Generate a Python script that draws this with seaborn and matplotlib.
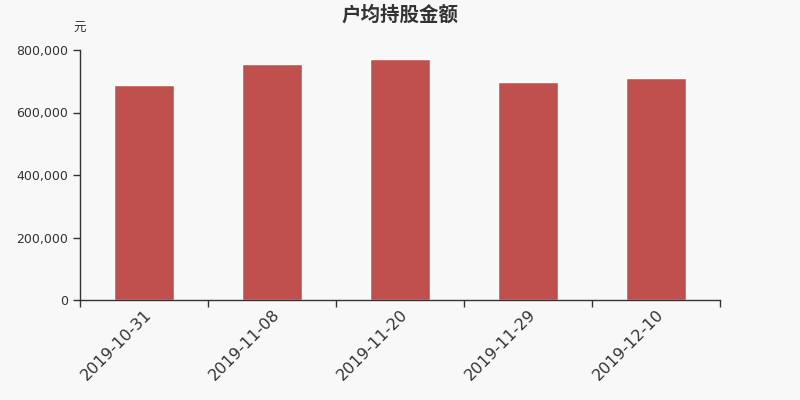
import seaborn as sns
import matplotlib.pyplot as plt
import matplotlib.ticker as mticker

dates = ["2019-10-31", "2019-11-08", "2019-11-20", "2019-11-29", "2019-12-10"]
amounts = [688000, 755000, 771000, 698000, 712000]

sns.set_style("white")
plt.rcParams['font.family'] = ['DejaVu Sans', 'Noto Sans CJK SC']

fig = plt.figure(figsize=(8, 4), dpi=100, facecolor="#f8f8f8")
ax = fig.add_axes([0.1, 0.25, 0.8, 0.625])
ax.set_facecolor("#f8f8f8")

sns.barplot(x=dates, y=amounts, color="#c0504d", saturation=1, width=0.47, ax=ax)

ax.set_xlim(-0.5, 4.5)
ax.set_ylim(0, 800000)
ax.yaxis.set_major_locator(mticker.MultipleLocator(200000))
ax.yaxis.set_major_formatter(mticker.FuncFormatter(lambda v, p: f"{int(v):,}"))

# tick marks on category boundaries, labels at centres
ax.set_xticks([i - 0.5 for i in range(6)], minor=True)
ax.tick_params(axis="x", which="minor", bottom=True, length=5, color="#333333", width=1)
ax.tick_params(axis="x", which="major", bottom=True, length=0, labelsize=11.5, labelcolor="#333333", pad=5)
ax.tick_params(axis="y", length=5, color="#333333", width=1, labelsize=9, labelcolor="#333333", left=True)
for lab in ax.get_xticklabels():
    lab.set_rotation(45)
    lab.set_ha("right")
    lab.set_rotation_mode("anchor")

for s in ["top", "right"]:
    ax.spines[s].set_visible(False)
for s in ["left", "bottom"]:
    ax.spines[s].set_color("#333333")
    ax.spines[s].set_linewidth(1)

ax.set_xlabel("")
ax.set_ylabel("")
fig.text(0.5, 0.963, "户均持股金额", ha="center", va="center", fontsize=14,
         fontweight="bold", color="#333333")
fig.text(0.1, 0.93, "元", ha="center", va="center", fontsize=9, color="#333333")

fig.savefig("out.png", dpi=100, facecolor=fig.get_facecolor())
